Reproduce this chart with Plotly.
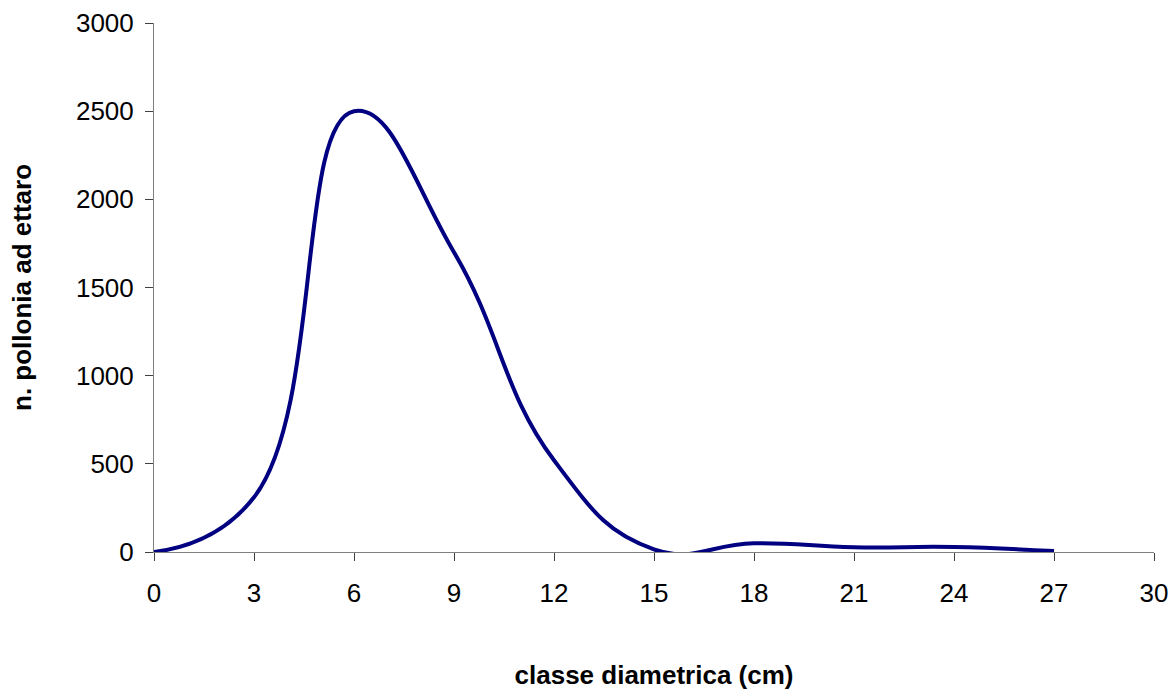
import plotly.graph_objects as go

classe = [0, 3, 6, 9, 12, 15, 18, 21, 24, 27]
polloni = [0, 310, 2500, 1700, 520, 15, 50, 27, 28, 5]

x_ticks = [0, 3, 6, 9, 12, 15, 18, 21, 24, 27, 30]
y_ticks = [0, 500, 1000, 1500, 2000, 2500, 3000]

FONT = "Liberation Sans, Arial, sans-serif"

fig = go.Figure()
fig.add_trace(go.Scatter(
    x=classe, y=polloni, mode="lines",
    line=dict(color="#000080", width=4, shape="spline", smoothing=1.3),
    showlegend=False, hoverinfo="x+y",
))

axis_common = dict(
    showgrid=False, zeroline=False, showline=True, linecolor="#808080", linewidth=1,
    ticks="outside", ticklen=8, tickcolor="#404040", tickwidth=1,
    tickfont=dict(family=FONT, size=26, color="black"),
    ticklabeloverflow="allow",
    automargin=False,
)

fig.update_layout(
    width=1176, height=690,
    margin=dict(l=154, r=22, t=23, b=138),
    paper_bgcolor="white", plot_bgcolor="white",
    font=dict(family=FONT, color="black"),
    xaxis=dict(
        range=[0, 30], tickvals=x_ticks, ticktext=[str(v) for v in x_ticks],
        ticklabelstandoff=10,
        title=dict(text="<b>classe diametrica (cm)</b>", font=dict(family=FONT, size=26, color="black"), standoff=61),
        **axis_common,
    ),
    yaxis=dict(
        range=[0, 3000], tickvals=y_ticks, ticktext=[str(v) for v in y_ticks],
        ticklabelstandoff=6,
        title=dict(text="<b>n. pollonia ad ettaro</b>", font=dict(family=FONT, size=26, color="black"), standoff=36),
        **axis_common,
    ),
)

# remove the browser's default 8px body margin so the figure fills the window exactly
fig.write_html(
    "out.html",
    config={"displayModeBar": False},
    post_script="document.body.style.margin='0';",
)
